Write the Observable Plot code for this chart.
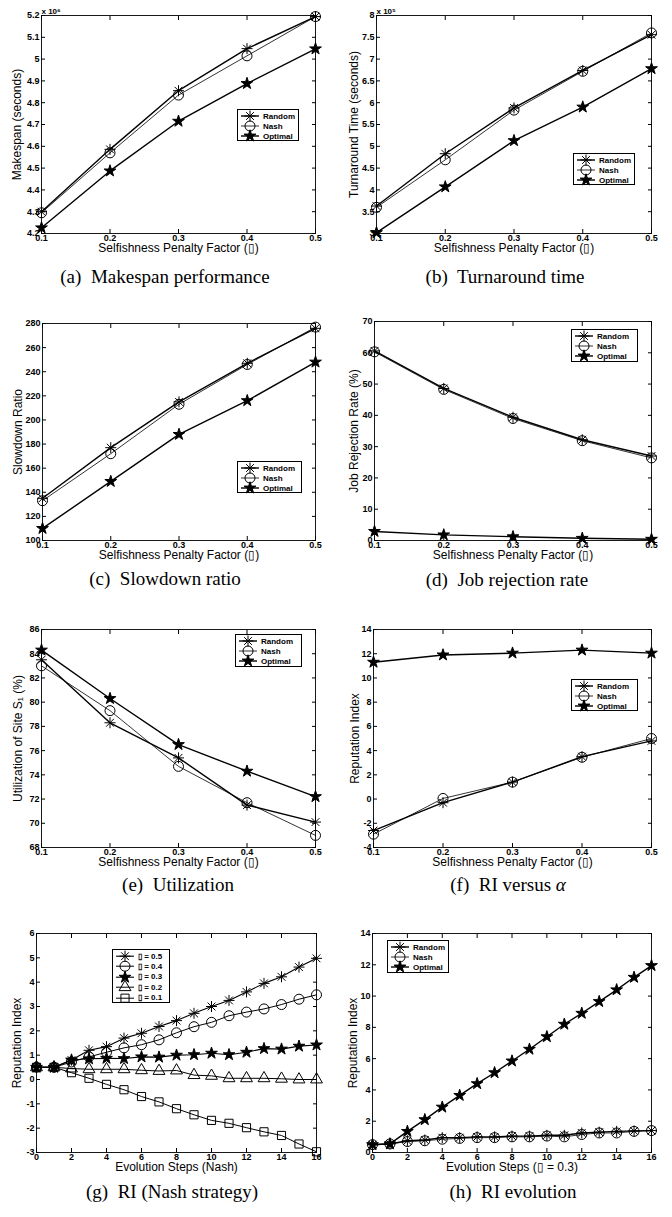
<!DOCTYPE html>
<html><head><meta charset="utf-8">
<script src="https://cdn.jsdelivr.net/npm/d3@7"></script>
<script src="https://cdn.jsdelivr.net/npm/@observablehq/plot@0.6"></script>
<style>
body{margin:0;background:#fff;}
#root{position:relative;width:672px;height:1217px;overflow:hidden;font-family:"Liberation Sans",Arial,sans-serif;}
.panel{position:absolute;}
.cap{position:absolute;font-family:"Liberation Serif","Times New Roman",serif;font-size:19px;white-space:pre;transform:translate(-50%,-50%);color:#000;}
.leg{position:absolute;border:1px solid #000;background:#fff;box-sizing:border-box;font-size:8px;font-weight:bold;padding-top:1px;}
.leg .row{display:flex;align-items:center;white-space:pre;}
</style></head><body><div id="root"></div>
<script>
// ---------------- DATA ----------------
const alphas = [0.1, 0.2, 0.3, 0.4, 0.5];
const steps = [0,1,2,3,4,5,6,7,8,9,10,11,12,13,14,15,16];

// (a) Makespan (x 10^6 s)
const makespanRandom  = [4.30, 4.586, 4.855, 5.048, 5.195];
const makespanNash    = [4.295, 4.57, 4.835, 5.015, 5.195];
const makespanOptimal = [4.226, 4.487, 4.715, 4.888, 5.047];
const makespanTicks = [4.2,4.3,4.4,4.5,4.6,4.7,4.8,4.9,5,5.1,5.2];

// (b) Turnaround time (x 10^5 s)
const turnRandom  = [3.63, 4.83, 5.88, 6.74, 7.56];
const turnNash    = [3.60, 4.69, 5.83, 6.72, 7.60];
const turnOptimal = [3.02, 4.07, 5.13, 5.90, 6.78];
const turnTicks = [3,3.5,4,4.5,5,5.5,6,6.5,7,7.5,8];

// (c) Slowdown ratio
const slowRandom  = [135, 177, 215, 247, 276];
const slowNash    = [133, 172, 213, 246, 277];
const slowOptimal = [110, 149, 188, 216, 248];
const slowTicks = [100,120,140,160,180,200,220,240,260,280];

// (d) Job rejection rate (%)
const rejRandom  = [60.6, 48.6, 39.4, 32.2, 27.0];
const rejNash    = [60.3, 48.3, 39.0, 31.9, 26.4];
const rejOptimal = [2.9, 1.8, 1.2, 0.7, 0.4];
const rejTicks = [0,10,20,30,40,50,60,70];

// (e) Utilization of site S1 (%)
const utilRandom  = [83.5, 78.3, 75.4, 71.5, 70.1];
const utilNash    = [83.0, 79.3, 74.7, 71.7, 69.0];
const utilOptimal = [84.3, 80.3, 76.5, 74.3, 72.2];
const utilTicks = [68,70,72,74,76,78,80,82,84,86];

// (f) Reputation index vs alpha
const riRandom  = [-2.6, -0.3, 1.4, 3.5, 4.8];
const riNash    = [-2.9, 0.05, 1.4, 3.45, 5.0];
const riOptimal = [11.3, 11.9, 12.05, 12.3, 12.05];
const riTicks = [-4,-2,0,2,4,6,8,10,12,14];

// (g) RI, Nash strategy, by alpha
const nashA05 = [0.5,0.5,0.8,1.2,1.35,1.7,1.9,2.18,2.42,2.72,3.0,3.25,3.6,3.95,4.22,4.62,4.98];
const nashA04 = [0.5,0.5,0.72,0.93,1.12,1.3,1.43,1.63,1.92,2.17,2.35,2.62,2.77,2.9,3.08,3.3,3.48];
const nashA03 = [0.5,0.5,0.8,0.85,0.87,0.86,0.93,0.92,1.0,1.02,1.08,1.02,1.12,1.27,1.25,1.37,1.42];
const nashA02 = [0.5,0.5,0.45,0.42,0.42,0.42,0.38,0.35,0.37,0.18,0.15,0.05,0.05,0.05,0.03,0.0,0.0];
const nashA01 = [0.5,0.5,0.28,0.05,-0.2,-0.42,-0.7,-0.92,-1.2,-1.45,-1.68,-1.8,-1.98,-2.15,-2.3,-2.65,-2.97];
const nashTicks = [-3,-2,-1,0,1,2,3,4,5,6];

// (h) RI evolution (alpha = 0.3)
const evoRandom  = [0.5,0.55,0.75,0.8,0.95,0.95,1.0,1.0,1.05,1.05,1.1,1.1,1.25,1.3,1.35,1.38,1.4];
const evoNash    = [0.5,0.55,0.7,0.75,0.85,0.9,0.95,0.95,1.0,1.0,1.05,1.0,1.15,1.25,1.25,1.35,1.4];
const evoOptimal = [0.5,0.55,1.35,2.1,2.9,3.65,4.4,5.1,5.85,6.6,7.4,8.2,8.9,9.65,10.4,11.2,11.95];
const evoTicks = [0,2,4,6,8,10,12,14];
const stepTicks = [0,2,4,6,8,10,12,14,16];

const captions = ["(a)  Makespan performance","(b)  Turnaround time","(c)  Slowdown ratio","(d)  Job rejection rate","(e)  Utilization","(f)  RI versus ","(g)  RI (Nash strategy)","(h)  RI evolution"];
const alphaLabel = "Selfishness Penalty Factor (\u25AF)";

// ---------------- STYLES ----------------
// MATLAB-style '*' marker: a plus and a cross combined
const asterisk8 = {draw(ctx, size) {
  const r = Math.sqrt(size / Math.PI), d = r * 0.7071;
  ctx.moveTo(0, -r); ctx.lineTo(0, r);
  ctx.moveTo(-r, 0); ctx.lineTo(r, 0);
  ctx.moveTo(-d, -d); ctx.lineTo(d, d);
  ctx.moveTo(-d, d); ctx.lineTo(d, -d);
}};
const symbolOf = {asterisk: asterisk8, circle: d3.symbolCircle, star: d3.symbolStar, triangle: d3.symbolTriangle, square: d3.symbolSquare};
const S = {
  Random:  {symbol:"asterisk", fill:"none",  r:5.5, sw:1.4},
  Nash:    {symbol:"circle",   fill:"none",  r:5,   sw:0.8},
  Optimal: {symbol:"star",     fill:"black", r:3.7, sw:1.4},
  a05: {symbol:"asterisk", fill:"none",  r:5.5, sw:1.1},
  a04: {symbol:"circle",   fill:"none",  r:5,   sw:1.0},
  a03: {symbol:"star",     fill:"black", r:3.7, sw:1.1},
  a02: {symbol:"triangle", fill:"none",  r:4.4, sw:1.0},
  a01: {symbol:"square",   fill:"none",  r:4.6, sw:1.0},
};
const fmt = d => String(+(+d).toFixed(2));
const root = document.getElementById("root");

function three(r, n, o) {
  return [{name:"Random", values:r, style:S.Random},{name:"Nash", values:n, style:S.Nash},{name:"Optimal", values:o, style:S.Optimal}];
}

function panel(cfg) {
  const rows = cfg.series.flatMap(s => s.values.map((v, i) => ({series: s.name, x: cfg.xs[i], y: v})));
  const marks = [
    Plot.frame({stroke: "black", strokeWidth: 0.9}),
    Plot.axisX({anchor:"bottom", ticks: cfg.xTicks, tickSize: -4, tickPadding: 5, tickFormat: fmt, label: null, fontSize: 9, fontWeight: "bold"}),
    Plot.axisX({anchor:"top", ticks: cfg.xTicks, tickSize: -4, tickFormat: () => "", label: null}),
    Plot.axisY({anchor:"left", ticks: cfg.yTicks, tickSize: -4, tickPadding: 6, tickFormat: fmt, label: null, fontSize: 9, fontWeight: "bold"}),
    Plot.axisY({anchor:"right", ticks: cfg.yTicks, tickSize: -4, tickFormat: () => "", label: null}),
  ];
  for (const s of cfg.series) {
    marks.push(Plot.line(rows.filter(r => r.series === s.name), {x: "x", y: "y", stroke: "black", strokeWidth: s.style.sw}));
  }
  for (const s of cfg.series) {
    marks.push(Plot.dot(rows.filter(r => r.series === s.name), {x: "x", y: "y", symbol: symbolOf[s.style.symbol], r: s.style.r, fill: s.style.fill, stroke: "black", strokeWidth: 1}));
  }
  marks.push(Plot.text([cfg.xLabel], {text: d => d, frameAnchor: "bottom", dy: 15, fontSize: 12, textAnchor: "middle", lineAnchor: "middle"}));
  marks.push(Plot.text([cfg.yLabel], {text: d => d, frameAnchor: "left", dx: -cfg.yOff, rotate: -90, fontSize: 12, textAnchor: "middle", lineAnchor: "middle"}));
  if (cfg.mult) marks.push(Plot.text([cfg.mult], {text: d => d, frameAnchor: "top-left", dy: -2, dx: 0, fontSize: 8, fontWeight: "bold", textAnchor: "start", lineAnchor: "bottom"}));
  const L = cfg.layout;
  const svg = Plot.plot({
    width: 336, height: L.h,
    marginTop: L.mt, marginBottom: L.h - L.mt - L.fh, marginLeft: L.ml, marginRight: L.mr,
    x: {domain: cfg.xDomain, label: null},
    y: {domain: cfg.yDomain, label: null},
    style: {fontFamily: '"Liberation Sans", Arial, sans-serif', fontSize: "9px", overflow: "visible", background: "transparent", color: "black"},
    marks
  });
  const div = document.createElement("div");
  div.className = "panel";
  div.style.left = L.left + "px"; div.style.top = L.top + "px";
  div.appendChild(svg);
  root.appendChild(div);
  legend(cfg.series, cfg.legend);
  const cap = document.createElement("div");
  cap.className = "cap";
  cap.style.left = cfg.cap[0] + "px"; cap.style.top = cfg.cap[1] + "px";
  cap.textContent = cfg.caption;
  if (cfg.capAlpha) { const i = document.createElement("i"); i.textContent = "\u03B1"; cap.appendChild(i); }
  root.appendChild(cap);
}

function legend(series, pos) {
  const div = document.createElement("div");
  div.className = "leg";
  div.style.left = pos.x + "px"; div.style.top = pos.y + "px";
  div.style.width = pos.w + "px"; div.style.height = pos.h + "px";
  const rh = pos.rh;
  for (const s of series) {
    const row = document.createElement("div");
    row.className = "row"; row.style.height = rh + "px";
    const sv = d3.create("svg").attr("width", 24).attr("height", rh).style("overflow", "visible").style("flex", "none");
    sv.append("line").attr("x1", 3).attr("x2", 21).attr("y1", rh/2).attr("y2", rh/2).attr("stroke", "black").attr("stroke-width", s.style.sw);
    sv.append("path").attr("d", d3.symbol(symbolOf[s.style.symbol], Math.PI * s.style.r * s.style.r)())
      .attr("transform", `translate(12,${rh/2})`).attr("fill", s.style.fill).attr("stroke", "black").attr("stroke-width", 1);
    row.appendChild(sv.node());
    const t = document.createElement("span");
    t.textContent = s.name; t.style.marginLeft = "1px"; t.style.fontSize = pos.fs + "px";
    row.appendChild(t);
    div.appendChild(row);
  }
  root.appendChild(div);
}

// ---------------- PANELS ----------------
panel({xs: alphas, xDomain:[0.1,0.5], xTicks: alphas, yDomain:[4.2,5.2], yTicks: makespanTicks,
  series: three(makespanRandom, makespanNash, makespanOptimal), xLabel: alphaLabel, yLabel: "Makespan (seconds)", yOff: 24, mult: "x 10\u2076",
  layout: {left:0, top:0, h:263, mt:15, fh:218, ml:41, mr:21}, legend: {x:237, y:109, w:62, h:32, rh:10, fs:8}, caption: captions[0], cap:[165,277]});
panel({xs: alphas, xDomain:[0.1,0.5], xTicks: alphas, yDomain:[3,8], yTicks: turnTicks,
  series: three(turnRandom, turnNash, turnOptimal), xLabel: alphaLabel, yLabel: "Turnaround Time (seconds)", yOff: 22, mult: "x 10\u2075",
  layout: {left:336, top:0, h:263, mt:15, fh:218, ml:40, mr:21}, legend: {x:573, y:153, w:62, h:32, rh:10, fs:8}, caption: captions[1], cap:[505,277]});
panel({xs: alphas, xDomain:[0.1,0.5], xTicks: alphas, yDomain:[100,280], yTicks: slowTicks,
  series: three(slowRandom, slowNash, slowOptimal), xLabel: alphaLabel, yLabel: "Slowdown Ratio", yOff: 24,
  layout: {left:0, top:300, h:270, mt:23, fh:217, ml:42, mr:21}, legend: {x:237, y:461, w:65, h:32, rh:10, fs:8}, caption: captions[2], cap:[165,579]});
panel({xs: alphas, xDomain:[0.1,0.5], xTicks: alphas, yDomain:[0,70], yTicks: rejTicks,
  series: three(rejRandom, rejNash, rejOptimal), xLabel: alphaLabel, yLabel: "Job Rejection Rate (%)", yOff: 20,
  layout: {left:336, top:300, h:270, mt:21, fh:219, ml:38, mr:21}, legend: {x:571, y:329, w:67, h:33, rh:10, fs:8}, caption: captions[3], cap:[507,580]});
panel({xs: alphas, xDomain:[0.1,0.5], xTicks: alphas, yDomain:[68,86], yTicks: utilTicks,
  series: three(utilRandom, utilNash, utilOptimal), xLabel: alphaLabel, yLabel: "Utilization of Site S\u2081 (%)", yOff: 23,
  layout: {left:0, top:600, h:277, mt:29, fh:218, ml:41, mr:21}, legend: {x:235, y:634, w:67, h:33, rh:10, fs:8}, caption: captions[4], cap:[178,885]});
panel({xs: alphas, xDomain:[0.1,0.5], xTicks: alphas, yDomain:[-4,14], yTicks: riTicks,
  series: three(riRandom, riNash, riOptimal), xLabel: alphaLabel, yLabel: "Reputation Index", yOff: 18,
  layout: {left:336, top:600, h:277, mt:29, fh:218, ml:37, mr:21}, legend: {x:571, y:679, w:67, h:32, rh:10, fs:8}, caption: captions[5], capAlpha: true, cap:[508,885]});
panel({xs: steps, xDomain:[0,16], xTicks: stepTicks, yDomain:[-3,6], yTicks: nashTicks,
  series: [
    {name:"\u25AF = 0.5", values: nashA05, style:S.a05},
    {name:"\u25AF = 0.4", values: nashA04, style:S.a04},
    {name:"\u25AF = 0.3", values: nashA03, style:S.a03},
    {name:"\u25AF = 0.2", values: nashA02, style:S.a02},
    {name:"\u25AF = 0.1", values: nashA01, style:S.a01}],
  xLabel: "Evolution Steps (Nash)", yLabel: "Reputation Index", yOff: 19,
  layout: {left:0, top:910, h:272, mt:23, fh:219, ml:36, mr:20}, legend: {x:112, y:949, w:58, h:54, rh:10.4, fs:8}, caption: captions[6], cap:[172,1192]});
panel({xs: steps, xDomain:[0,16], xTicks: stepTicks, yDomain:[0,14], yTicks: evoTicks,
  series: three(evoRandom, evoNash, evoOptimal), xLabel: "Evolution Steps (\u25AF = 0.3)", yLabel: "Reputation Index", yOff: 19,
  layout: {left:336, top:910, h:272, mt:23, fh:219, ml:36, mr:21}, legend: {x:387, y:940, w:62, h:33, rh:10, fs:8}, caption: captions[7], cap:[513,1192]});
</script></body></html>
